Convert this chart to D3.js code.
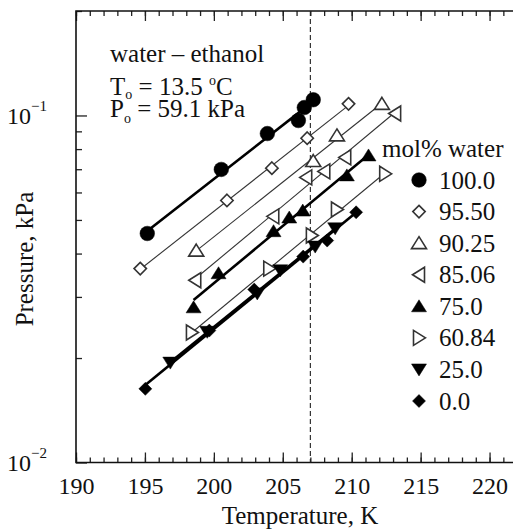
<!DOCTYPE html>
<html>
<head>
<meta charset="utf-8">
<script src="https://cdn.jsdelivr.net/npm/d3@7"></script>
<style>
  html, body { margin: 0; padding: 0; background: #fff; }
  svg { display: block; font-family: "Liberation Serif", "DejaVu Serif", serif; }
  .tick text { font-family: "Liberation Serif", serif; }
</style>
</head>
<body>
<div id="chart"></div>
<script>
// series: [temperature K, pressure kPa]
const W100 = [[195.17, 0.0457], [200.54, 0.0699], [203.88, 0.0887], [206.13, 0.0967], [206.56, 0.1054], [207.21, 0.111]];
const W9550 = [[194.66, 0.0362], [200.95, 0.0569], [204.21, 0.0705], [206.77, 0.086], [209.77, 0.108]];
const W9025 = [[198.72, 0.0408], [207.21, 0.0739], [208.93, 0.0876], [212.19, 0.108]];
const W8506 = [[198.65, 0.0335], [204.31, 0.0512], [206.7, 0.0663], [208.01, 0.069], [209.53, 0.0757], [213.15, 0.1013]];
const W75 = [[198.53, 0.028], [200.34, 0.0351], [204.33, 0.0464], [205.47, 0.0508], [206.45, 0.0532], [209.65, 0.0672], [211.22, 0.0767]];
const W6084 = [[198.41, 0.0237], [204.02, 0.0362], [207.11, 0.0451], [208.93, 0.0536], [212.43, 0.0679]];
const W25 = [[196.84, 0.0194], [199.52, 0.0238], [203.15, 0.0307], [204.82, 0.0358], [207.35, 0.0419], [208.8, 0.0473]];
const W0 = [[195.03, 0.0163], [199.67, 0.024], [202.93, 0.0315], [206.48, 0.0392], [208.22, 0.0436], [210.32, 0.0526]];

const SERIES_LABELS = ["100.0", "95.50", "90.25", "85.06", "75.0", "60.84", "25.0", "0.0"];
const SERIES_DATA = [W100, W9550, W9025, W8506, W75, W6084, W25, W0];
const SERIES_MARKERS = ["circle", "diamond", "up", "left", "up", "right", "down", "diamond"];
const SERIES_FILLED = [true, false, false, false, true, false, true, true];

const X_MAJOR = [190, 195, 200, 205, 210, 215, 220];
const Y_MAJOR = [0.01, 0.1];
const Y_EXP = ["−2", "−1"];
const T_DASH = 207.0;

const width = 513, height = 529;
const margin = { top: 11, left: 76, bottom: 462.5, right: 513 };

const svg = d3.select("#chart").append("svg")
  .attr("width", width).attr("height", height)
  .attr("viewBox", `0 0 ${width} ${height}`);

const x = d3.scaleLinear().domain([190, 221.7]).range([margin.left, margin.right]);
const y = d3.scaleLog().domain([0.01, 0.2]).range([margin.bottom, margin.top]);

function markerPath(kind, filled) {
  if (kind === "circle") return d3.symbol(d3.symbolCircle, Math.PI * 7.3 * 7.3)();
  if (kind === "diamond") {
    const h = filled ? 6.5 : 6.2;
    return `M0,${-h}L${h},0L0,${h}L${-h},0Z`;
  }
  const a = 7.5, b = 6.5, c = 5.5;
  if (kind === "up") return `M0,${-b}L${a},${c}L${-a},${c}Z`;
  if (kind === "down") return `M0,${b}L${a},${-c}L${-a},${-c}Z`;
  if (kind === "left") return `M${-b},0L${c},${-a}L${c},${a}Z`;
  if (kind === "right") return `M${b},0L${-c},${-a}L${-c},${a}Z`;
  return "";
}

function styleTicks(g) {
  g.select(".domain").remove();
  g.selectAll("line").attr("stroke", "#222").attr("stroke-width", 1.3);
}

// x ticks (top + bottom, pointing inward)
const xMinor = d3.range(190, 222, 1);
svg.append("g")
  .attr("transform", `translate(0,${margin.bottom})`)
  .call(d3.axisBottom(x).tickValues(xMinor).tickSize(-5).tickFormat(""))
  .call(styleTicks);
svg.append("g")
  .attr("transform", `translate(0,${margin.bottom})`)
  .call(d3.axisBottom(x).tickValues(X_MAJOR).tickSize(-10).tickPadding(14).tickFormat(d3.format("d")))
  .call(styleTicks)
  .call((g) => g.selectAll("text").attr("font-size", 24).attr("fill", "#111"));
svg.append("g")
  .attr("transform", `translate(0,${margin.top})`)
  .call(d3.axisTop(x).tickValues(xMinor).tickSize(-5).tickFormat(""))
  .call(styleTicks);
svg.append("g")
  .attr("transform", `translate(0,${margin.top})`)
  .call(d3.axisTop(x).tickValues(X_MAJOR).tickSize(-10).tickFormat(""))
  .call(styleTicks);

// y ticks (log)
const yMinor = [0.02, 0.03, 0.04, 0.05, 0.06, 0.07, 0.08, 0.09, 0.2];
svg.append("g")
  .attr("transform", `translate(${margin.left},0)`)
  .call(d3.axisLeft(y).tickValues(yMinor).tickSize(-6).tickFormat(""))
  .call(styleTicks);
svg.append("g")
  .attr("transform", `translate(${margin.left},0)`)
  .call(d3.axisLeft(y).tickValues(Y_MAJOR).tickSize(-11).tickPadding(29).tickFormat(""))
  .call(styleTicks)
  .call((g) => g.selectAll("text")
    .attr("font-size", 24).attr("fill", "#111").attr("dy", "0.32em")
    .each(function (d, i) {
      const t = d3.select(this);
      t.text("10");
      t.append("tspan").attr("font-size", 15).attr("dy", "-0.85em").text(Y_EXP[i]);
    }));

// frame
svg.append("path")
  .attr("d", `M${margin.right},${margin.top}H${margin.left}V${margin.bottom}H${margin.right}`)
  .attr("fill", "none").attr("stroke", "#111").attr("stroke-width", 1.6);

// dashed reference line
svg.append("line")
  .attr("x1", x(T_DASH)).attr("x2", x(T_DASH))
  .attr("y1", margin.top).attr("y2", margin.bottom)
  .attr("stroke", "#222").attr("stroke-width", 1.1).attr("stroke-dasharray", "5,3");

// fit lines (log P vs T)
function fitLine(points) {
  const xs = points.map((p) => p[0]);
  const ys = points.map((p) => Math.log10(p[1]));
  const mx = d3.mean(xs), my = d3.mean(ys);
  const b = d3.sum(xs, (v, i) => (v - mx) * (ys[i] - my)) / d3.sum(xs, (v) => (v - mx) ** 2);
  const a = my - b * mx;
  const [lo, hi] = d3.extent(xs);
  return [[lo, 10 ** (a + b * lo)], [hi, 10 ** (a + b * hi)]];
}

const line = d3.line().x((d) => x(d[0])).y((d) => y(d[1]));
SERIES_DATA.forEach((pts, i) => {
  svg.append("path")
    .attr("d", line(fitLine(pts)))
    .attr("fill", "none")
    .attr("stroke", SERIES_FILLED[i] ? "#000" : "#333")
    .attr("stroke-width", SERIES_FILLED[i] ? 2.6 : 1.1);
});

// markers
SERIES_DATA.forEach((pts, i) => {
  svg.append("g")
    .selectAll("path")
    .data(pts)
    .join("path")
    .attr("transform", (d) => `translate(${x(d[0])},${y(d[1])})`)
    .attr("d", markerPath(SERIES_MARKERS[i], SERIES_FILLED[i]))
    .attr("fill", SERIES_FILLED[i] ? "#000" : "#fff")
    .attr("stroke", SERIES_FILLED[i] ? "#000" : "#333")
    .attr("stroke-width", SERIES_FILLED[i] ? 0.5 : 1.6);
});

// annotation
const note = svg.append("g").attr("font-size", 25).attr("fill", "#111");
note.append("text").attr("x", 110).attr("y", 62).text("water – ethanol");
const t2 = note.append("text").attr("x", 110).attr("y", 95);
t2.append("tspan").text("T");
t2.append("tspan").attr("font-size", 14).attr("dy", 4).text("o");
t2.append("tspan").attr("dy", -4).text(" = 13.5 ");
t2.append("tspan").attr("font-size", 14).attr("dy", -10).text("o");
t2.append("tspan").attr("dy", 10).text("C");
const t3 = note.append("text").attr("x", 110).attr("y", 117);
t3.append("tspan").text("P");
t3.append("tspan").attr("font-size", 14).attr("dy", 6).text("o");
t3.append("tspan").attr("dy", -6).text(" = 59.1 kPa");

// legend
const legend = svg.append("g").attr("font-size", 25).attr("fill", "#111");
legend.append("text").attr("x", 382).attr("y", 157).text("mol% water");
const rowY = d3.scalePoint().domain(SERIES_LABELS).range([180, 401]);
SERIES_LABELS.forEach((label, i) => {
  const cy = rowY(label);
  legend.append("path")
    .attr("transform", `translate(419,${cy})`)
    .attr("d", markerPath(SERIES_MARKERS[i], SERIES_FILLED[i]))
    .attr("fill", SERIES_FILLED[i] ? "#000" : "#fff")
    .attr("stroke", SERIES_FILLED[i] ? "#000" : "#333")
    .attr("stroke-width", SERIES_FILLED[i] ? 0.5 : 1.6);
  legend.append("text").attr("x", 439).attr("y", cy).attr("dy", "0.34em").text(label);
});

// axis titles
svg.append("text")
  .attr("x", 300).attr("y", 524)
  .attr("text-anchor", "middle").attr("font-size", 25).attr("fill", "#111")
  .text("Temperature, K");
svg.append("text")
  .attr("transform", "translate(33,259) rotate(-90)")
  .attr("text-anchor", "middle").attr("font-size", 25).attr("fill", "#111")
  .text("Pressure, kPa");
</script>
</body>
</html>
